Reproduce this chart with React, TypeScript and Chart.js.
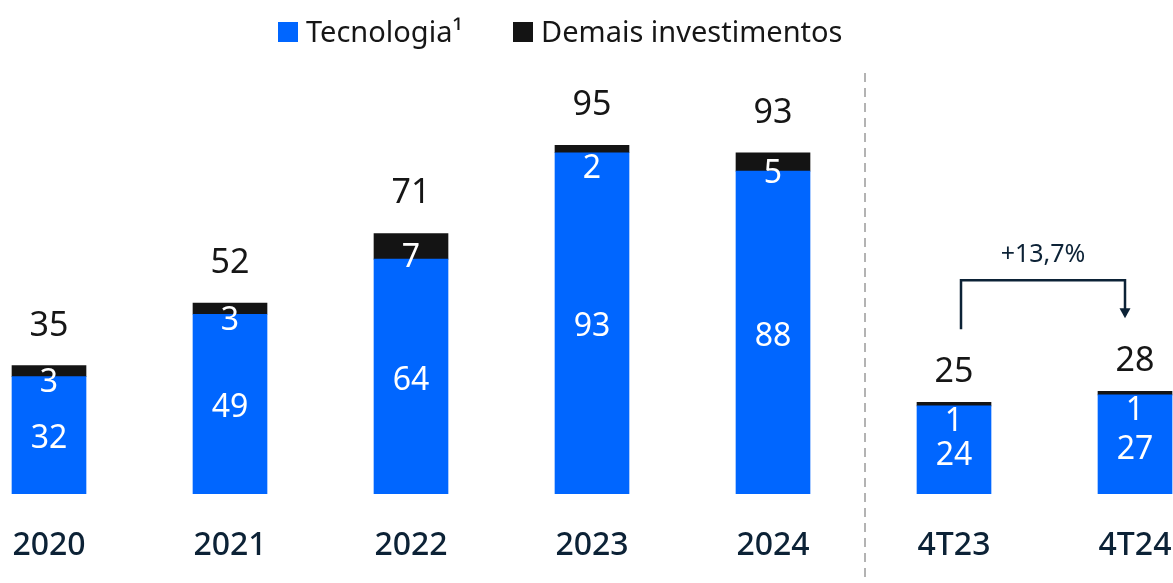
import { useEffect, useRef } from 'react';
import { Chart, registerables } from 'chart.js';

Chart.register(...registerables);

const categories = ['2020', '2021', '2022', '2023', '2024', '4T23', '4T24'];
const tecnologia = [32, 49, 64, 93, 88, 24, 27];
const demais = [3, 3, 7, 2, 5, 1, 1];
const totals = [35, 52, 71, 95, 93, 25, 28];
const seriesNames = ['Tecnologia¹', 'Demais investimentos'];
const growthLabel = '+13,7%';

const FONT = "'Noto Sans', sans-serif";
const BLUE = '#0066ff';
const BLACK = '#141414';
const NAVY = '#0c2236';

const quarterStart = categories.findIndex((c) => c.startsWith('4T'));

const overlay = {
  id: 'overlay',
  afterDatasetsDraw(chart: any) {
    const ctx = chart.ctx as CanvasRenderingContext2D;
    const m0 = chart.getDatasetMeta(0);
    const m1 = chart.getDatasetMeta(1);
    const xs = chart.scales.x;
    ctx.save();
    ctx.textAlign = 'center';
    ctx.textBaseline = 'alphabetic';
    const totalTops: number[] = [];
    const xsPix: number[] = [];
    categories.forEach((_, i) => {
      const b = m0.data[i] as any;
      const k = m1.data[i] as any;
      const isQ = i >= quarterStart;
      const blueCenter = (b.y + b.base) / 2;
      ctx.fillStyle = '#ffffff';
      ctx.font = `400 32px ${FONT}`;
      ctx.fillText(String(tecnologia[i]), b.x, blueCenter + (isQ ? 15 : 13));
      const segH = k.base - k.y;
      const bl = segH < 8 ? k.base + 25 : (k.y + k.base) / 2 + 21;
      ctx.fillText(String(demais[i]), k.x, bl);
      ctx.fillStyle = '#161616';
      ctx.font = `400 34px ${FONT}`;
      const tb = k.y - (isQ ? 20 : 30);
      ctx.fillText(String(totals[i]), k.x, tb);
      totalTops.push(tb - 25);
      xsPix.push(k.x);
    });

    // divider
    const dx = xs.getPixelForValue(quarterStart - 0.5) + 1.5;
    ctx.strokeStyle = '#b3b3b3';
    ctx.lineWidth = 2;
    ctx.setLineDash([9, 6]);
    ctx.beginPath();
    ctx.moveTo(dx, 73);
    ctx.lineTo(dx, chart.height);
    ctx.stroke();
    ctx.setLineDash([]);

    // growth bracket
    const a = quarterStart;
    const bI = quarterStart + 1;
    const lx = xsPix[a] + 7;
    const rx = xsPix[bI] - 10;
    const ly = totalTops[a] - 28;
    const ry = totalTops[bI] - 28;
    const topY = Math.min(ly, ry) - 38;
    ctx.strokeStyle = NAVY;
    ctx.lineWidth = 2.5;
    ctx.beginPath();
    ctx.moveTo(lx, ly);
    ctx.lineTo(lx, topY);
    ctx.lineTo(rx, topY);
    ctx.lineTo(rx, ry - 9);
    ctx.stroke();
    ctx.fillStyle = NAVY;
    ctx.beginPath();
    ctx.moveTo(rx - 5.5, ry - 10);
    ctx.lineTo(rx + 5.5, ry - 10);
    ctx.lineTo(rx, ry);
    ctx.closePath();
    ctx.fill();
    ctx.font = `400 25px ${FONT}`;
    ctx.fillText(growthLabel, (lx + rx) / 2, topY - 18);

    // legend
    ctx.textAlign = 'left';
    ctx.font = `400 29px ${FONT}`;
    const colors = [BLUE, BLACK];
    const legendX = [278, 513];
    seriesNames.forEach((name, i) => {
      const x = legendX[i];
      ctx.fillStyle = colors[i];
      ctx.fillRect(x, 22, 20, 20);
      ctx.fillStyle = '#161616';
      ctx.fillText(name, x + 28, 42);
    });
    ctx.restore();
  },
};

export default function App() {
  const ref = useRef<HTMLCanvasElement>(null);
  useEffect(() => {
    if (!ref.current) return;
    const chart = new Chart(ref.current, {
      type: 'bar',
      data: {
        datasets: [
          {
            label: seriesNames[0],
            data: tecnologia.map((v, i) => ({ x: i, y: v })),
            backgroundColor: BLUE,
            barThickness: 74,
          },
          {
            label: seriesNames[1],
            data: demais.map((v, i) => ({ x: i, y: v })),
            backgroundColor: BLACK,
            barThickness: 74,
          },
        ],
      },
      options: {
        animation: false,
        responsive: true,
        maintainAspectRatio: false,
        layout: { padding: { top: 17, bottom: 0, left: 0, right: 0 } },
        plugins: { legend: { display: false }, tooltip: { enabled: false } },
        scales: {
          x: {
            type: 'linear',
            stacked: true,
            offset: false,
            min: -49 / 181,
            max: (1173 - 49) / 181,
            grid: { display: false, drawTicks: false },
            border: { display: false },
            afterBuildTicks: (scale: any) => {
              scale.ticks = categories.map((_, i) => ({ value: i }));
            },
            afterFit: (scale: any) => {
              scale.height = 89;
              scale.paddingLeft = 0;
              scale.paddingRight = 0;
            },
            ticks: {
              padding: 36,
              color: NAVY,
              font: { family: FONT, size: 32, weight: '500', lineHeight: 1 },
              callback: (v: any) => categories[v as number] ?? '',
              maxRotation: 0,
              autoSkip: false,
            },
          },
          y: {
            display: false,
            stacked: true,
            min: 0,
            max: 130,
          },
        },
      },
      plugins: [overlay],
    } as any);
    return () => chart.destroy();
  }, []);
  return (
    <div style={{ position: 'fixed', left: 0, top: 0, width: 1173, height: 583, background: '#fff' }}>
      <canvas ref={ref} />
    </div>
  );
}
